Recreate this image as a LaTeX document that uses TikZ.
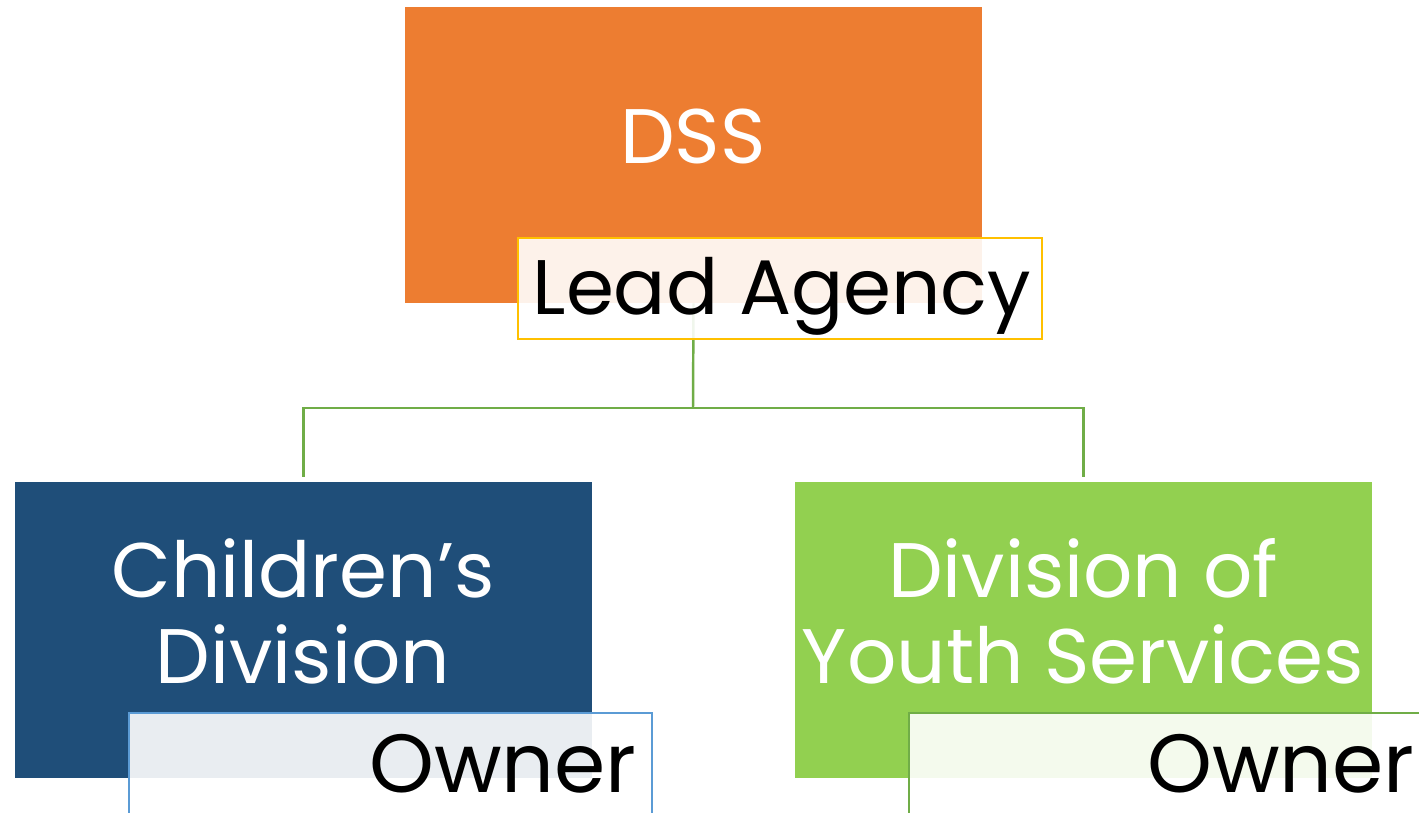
\documentclass[tikz,border=0pt]{standalone}
\usepackage{fontspec}
\setmainfont{Poppins}
\definecolor{dssorange}{HTML}{ED7D31}
\definecolor{cdblue}{HTML}{1F4E79}
\definecolor{dysgreen}{HTML}{92D050}
\definecolor{leadgold}{HTML}{FFC000}
\definecolor{ownblue}{HTML}{5B9BD5}
\definecolor{linegreen}{HTML}{70AD47}
\begin{document}
\begin{tikzpicture}[x=0.02cm, y=-0.02cm,
		unit/.style={rectangle, inner sep=0pt, minimum width=11.54cm, minimum height=5.92cm},
		role/.style={rectangle, draw, line width=1.1pt, fill=white, fill opacity=0.9, inner sep=0pt, minimum width=10.48cm, minimum height=2.02cm},
		bigtext/.style={text=white, align=center, font=\fontsize{44}{48.8}\selectfont, inner sep=0pt},
		roletext/.style={text=black, font=\fontsize{44}{46}\selectfont, inner sep=0pt},
		link/.style={draw=linegreen, line width=1.4pt}]
		\clip (0, 0) rectangle (1419, 812);
		\fill[white] (0, 0) rectangle (1419, 812);
		\node[unit, fill=dssorange] (DSS) at (693.5, 155) {};
		\node[unit, fill=cdblue] (CD) at (303.5, 630) {};
		\node[unit, fill=dysgreen] (DYS) at (1083.5, 630) {};
		\node[bigtext, anchor=base] (DSS_t) at (693, 163) {DSS};
		\node[bigtext, anchor=base] (CD_t) at (303, 683) {Children’s\\Division};
		\node[bigtext, anchor=base] (DYS_t) at (1083, 683) {Division of\\Youth Services};
		\coordinate (fork) at (693, 408);
		\draw[link] (DSS.south) -- (fork);
		\draw[link] (fork) -| ([yshift=0.1cm]CD.north);
		\draw[link] (fork) -| ([yshift=0.1cm]DYS.north);
		\node[role, draw=leadgold] (Lead) at (780, 288.5) {};
		\node[role, draw=ownblue] (Own_CD) at (390.5, 763.5) {};
		\node[role, draw=linegreen] (Own_DYS) at (1171, 763.5) {};
		\node[roletext, anchor=base] (Lead_t) at (782, 314) {Lead Agency};
		\node[roletext, anchor=base east, font=\fontsize{47}{48}\selectfont] (Own_CD_t) at (637, 792) {Owner};
		\node[roletext, anchor=base east, font=\fontsize{47}{48}\selectfont] (Own_DYS_t) at (1415, 792) {Owner};
	\end{tikzpicture}
\end{document}
